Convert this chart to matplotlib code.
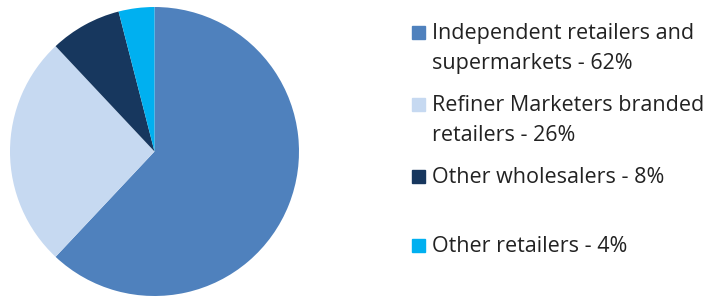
import matplotlib.pyplot as plt
from matplotlib.patches import Rectangle

labels = ["Independent retailers and\nsupermarkets - 62%",
          "Refiner Marketers branded\nretailers - 26%",
          "Other wholesalers - 8%",
          "Other retailers - 4%"]
shares = [62, 26, 8, 4]
colors = ["#4F81BD", "#C6D9F1", "#17375E", "#00B0F0"]
# pixel baseline of first text line in each legend entry
label_y = [39, 111, 183, 252]
line_gap = 30

W, H = 723, 297
fig = plt.figure(figsize=(W / 100, H / 100), dpi=100)
ax = fig.add_axes([10 / W, 1 / H, 289 / W, 289 / H])
ax.pie(shares, colors=colors, startangle=90, counterclock=False,
       wedgeprops=dict(linewidth=0))
ax.set_xlim(-1, 1)
ax.set_ylim(-1, 1)

for lab, c, y in zip(labels, colors, label_y):
    fig.patches.append(Rectangle((412 / W, 1 - (y + 0) / H), 13 / W, 13 / H,
                                 color=c, transform=fig.transFigure))
    for i, line in enumerate(lab.split("\n")):
        fig.text(432 / W, 1 - (y + i * line_gap) / H, line, fontsize=15.5,
                 color="#222222", va="baseline", ha="left", family="Open Sans")

fig.savefig("out.png", dpi=100)
